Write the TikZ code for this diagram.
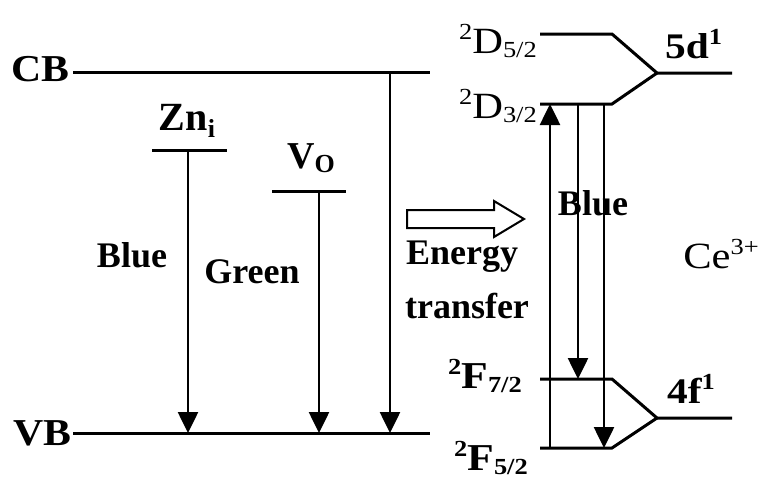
\documentclass[tikz,border=0pt]{standalone}
\usepackage{fontspec}
\setmainfont{Liberation Serif}
\usetikzlibrary{arrows.meta}
\newcommand{\hs}[1]{\scalebox{1.15}[1]{#1}}
\newcommand{\upx}[1]{\raisebox{14pt}{\fontsize{23}{23}\selectfont #1}}
\newcommand{\dnx}[1]{\raisebox{-4pt}{\fontsize{23}{23}\selectfont #1}}
\begin{document}
\begin{tikzpicture}[x=1pt,y=-1pt,
  lvl/.style={line width=3pt},
  trans/.style={line width=2.6pt,-{Triangle[width=20pt,length=21pt]}},
  lab/.style={inner sep=0pt,font=\fontsize{36}{40}\selectfont\bfseries},
  labr/.style={inner sep=0pt,font=\fontsize{37}{40}\selectfont\mdseries}]
\useasboundingbox (0,0) rectangle (761,480);
\fill[white] (0,0) rectangle (761,480);
% left band levels
\coordinate (cbL) at (73,72); \coordinate (cbR) at (430,72);
\coordinate (vbL) at (73,433); \coordinate (vbR) at (430,433);
\coordinate (znL) at (152,150); \coordinate (znR) at (227,150);
\coordinate (znA) at (188,150); \coordinate (znB) at (188,433);
\coordinate (voL) at (272,191); \coordinate (voR) at (346,191);
\coordinate (voA) at (319,191); \coordinate (voB) at (319,433);
\coordinate (etA) at (390,72); \coordinate (etB) at (390,433);
\draw[lvl] (cbL) -- (cbR);
\draw[lvl] (vbL) -- (vbR);
\draw[lvl] (znL) -- (znR);
\draw[lvl] (voL) -- (voR);
\draw[trans] (znA) -- (znB);
\draw[trans] (voA) -- (voB);
\draw[trans] (etA) -- (etB);
% labels left
\node[lab,anchor=base east,font=\fontsize{38}{40}\selectfont\bfseries] (cb) at (70,81) {\scalebox{1.1}[1]{CB}};
\node[lab,anchor=base east,font=\fontsize{38}{40}\selectfont\bfseries] (vb) at (72,445) {\scalebox{1.1}[1]{VB}};
\node[lab,anchor=base,font=\fontsize{40}{42}\selectfont\bfseries] (zn) at (187,130) {Zn\raisebox{-7pt}{\fontsize{26}{26}\selectfont i}};
\node[lab,anchor=base,font=\fontsize{38}{40}\selectfont\bfseries] (vo) at (311,168) {V\raisebox{-4pt}{\fontsize{26}{26}\selectfont O}};
\node[lab,anchor=base] (blue1) at (132,267) {Blue};
\node[lab,anchor=base] (green) at (252,283) {Green};
\node[lab,anchor=base] (energy) at (462,264) {Energy};
\node[lab,anchor=base] (transfer) at (467,318) {transfer};
% hollow arrow
\draw[line width=2pt,fill=white] (407,210) -- (494,210) -- (494,201) -- (524,219) -- (494,237) -- (494,228) -- (407,228) -- cycle;
% right: Ce levels
\coordinate (d5L) at (540,34); \coordinate (d5M) at (612,34);
\coordinate (d3L) at (540,104); \coordinate (d3M) at (612,104);
\coordinate (dJ) at (657,73); \coordinate (dR) at (732,73);
\coordinate (f7L) at (540,379); \coordinate (f7M) at (612,379);
\coordinate (f5L) at (540,448); \coordinate (f5M) at (612,448);
\coordinate (fJ) at (657,418); \coordinate (fR) at (732,418);
\draw[lvl,line join=miter] (d5L) -- (d5M) -- (dJ) -- (dR);
\draw[lvl,line join=miter] (d3L) -- (d3M) -- (dJ);
\draw[lvl,line join=miter] (f7L) -- (f7M) -- (fJ) -- (fR);
\draw[lvl,line join=miter] (f5L) -- (f5M) -- (fJ);
\coordinate (upB) at (550,448); \coordinate (upT) at (550,104);
\coordinate (a1T) at (578,104); \coordinate (a1B) at (578,379);
\coordinate (a2T) at (604,104); \coordinate (a2B) at (604,448);
\draw[trans] (upB) -- (upT);
\draw[trans] (a1T) -- (a1B);
\draw[trans] (a2T) -- (a2B);
% right labels
\node[labr,anchor=base east] (d52) at (537,53) {\hs{\upx{2}D\dnx{5/2}}};
\node[labr,anchor=base east] (d32) at (537,118) {\hs{\upx{2}D\dnx{3/2}}};
\node[lab,anchor=base east,font=\fontsize{38}{40}\selectfont\bfseries] (f72) at (522,388) {\hs{\upx{2}F\dnx{7/2}}};
\node[lab,anchor=base east,font=\fontsize{38}{40}\selectfont\bfseries] (f52) at (528,470) {\hs{\upx{2}F\dnx{5/2}}};
\node[lab,anchor=base west] (d5) at (665,58) {\hs{5d\upx{1}}};
\node[lab,anchor=base west] (f4) at (667,403) {\hs{4f\upx{1}}};
\node[labr,anchor=base] (ce) at (721,268) {\hs{Ce\upx{3+}}};
\node[lab,anchor=base] (blue2) at (593,215) {Blue};
\end{tikzpicture}
\end{document}
